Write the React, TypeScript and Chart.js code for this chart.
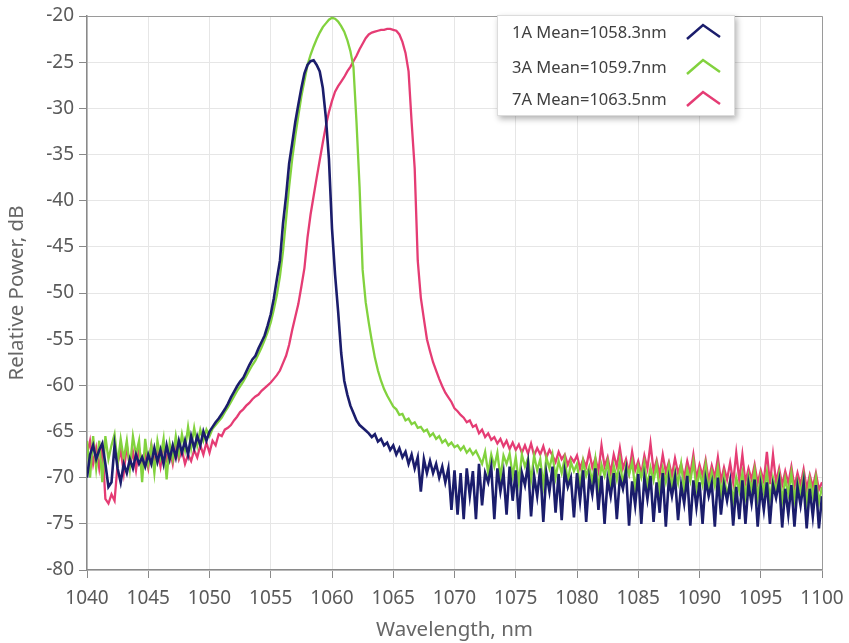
import { useEffect, useRef } from "react";
import { Chart, registerables } from "chart.js";

Chart.register(...registerables);

// Wavelength sampling grid (nm): start and step, one value per sample below
const WL_START = 1040;
const WL_STEP = 0.25;

const SERIES_LABELS = ["1A Mean=1058.3nm", "3A Mean=1059.7nm", "7A Mean=1063.5nm"];
const SERIES_COLORS = ["#1b1d6c", "#82d23e", "#e53c74"];

const X_MIN = 1040;
const X_MAX = 1100;
const X_STEP = 5;
const Y_MIN = -80;
const Y_MAX = -20;
const Y_STEP = 5;

const X_TITLE = "Wavelength, nm";
const Y_TITLE = "Relative Power, dB";

// 1A spectrum, dB (8 samples = 2 nm per row)
const POWER_1A = [
  -70, -67.5, -66.5, -68, -67, -66.3, -68.5, -71,
  -70.5, -66.5, -69, -70.5, -68.5, -69.5, -68, -69,
  -67.5, -68.5, -67.8, -68.8, -67.5, -68.5, -66.8, -68.3,
  -67, -68.5, -66.5, -68, -66.5, -67.8, -66, -67.3,
  -66, -67.5, -65.5, -66.8, -65.5, -66.5, -65, -66,
  -65, -64.5, -64, -63.6, -63.1, -62.6, -62, -61.3,
  -60.7, -60.1, -59.6, -59.2, -58.5, -57.8, -57.2, -56.8,
  -56, -55.3, -54.6, -53.5, -52.3, -50.6, -48.5, -46.5,
  -42.5, -39.5, -36, -33.8, -31.5, -29.6, -27.8, -26.2,
  -25.3, -24.9, -24.8, -25.3, -26, -27.8, -31, -35.5,
  -43, -48, -52, -56.5, -59.5, -61, -62.2, -63,
  -63.8, -64.3, -64.6, -64.9, -65.2, -65.6, -65.3, -66.1,
  -65.8, -66.5, -66.2, -67, -66.5, -67.5, -66.8, -67.8,
  -67.2, -68.5, -67.5, -69, -67.8, -71.5, -68, -69.5,
  -68.2, -69.5, -68.5, -70, -68.8, -70.5, -69, -73.5,
  -69.2, -74, -69.5, -74.5, -69, -72, -69.3, -74.5,
  -68.5, -73, -69.5, -70.5, -68.8, -74.5, -69, -71.5,
  -69.5, -74, -68.8, -72.5, -69.2, -74.5, -69.5, -70.8,
  -68.5, -74.2, -69.8, -72, -69, -74.8, -69.5, -71.5,
  -68.8, -73.8, -69.6, -74.6, -69.3, -71, -70, -74.3,
  -69.5, -72.5, -69.2, -74.8, -70, -71.8, -69, -73.5,
  -69.8, -75, -70.2, -72, -69.5, -74.5, -70, -71.2,
  -69.3, -75.2, -70.4, -73, -69.6, -75, -70, -72.3,
  -69.8, -74.8, -70.5, -73.8, -69.5, -75.3, -70.2, -72,
  -70, -74.6, -70.8, -72.8, -69.8, -75.2, -70.3, -73.2,
  -70.5, -75, -70.2, -72, -70.6, -75.3, -70, -74,
  -70.8, -72.5, -70.5, -75.2, -71, -74.5, -70.3, -75,
  -70.7, -72.8, -70.2, -75.3, -71, -73.5, -70.5, -75,
  -70.8, -72.2, -70.4, -75.4, -71.2, -74, -70.8, -75.3,
  -71, -73, -70.6, -75.5, -71.2, -74.2, -70.8, -75.5,
  -72,
];

// 3A spectrum, dB
const POWER_3A = [
  -66, -70, -65.5, -69, -66, -70.5, -65.5, -68,
  -66.5, -65.3, -68.5, -65.8, -68, -66, -69, -65.5,
  -67.5, -66, -70.5, -65.8, -68.5, -66.5, -69.5, -66,
  -67.8, -65.8, -70.2, -66.3, -68, -65.5, -67.5, -65.3,
  -67, -64.5, -66.8, -64.6, -66.5, -64.8, -66, -64.8,
  -65.5, -64.7, -64.3, -63.9, -63.5, -62.9, -62.4, -61.8,
  -61.2, -60.6, -60.1, -59.6, -59, -58.4, -57.8, -57.3,
  -56.6, -55.9, -55.1, -54.2, -53.2, -51.8, -50.2, -48.2,
  -45.5, -42, -38.5, -35.5, -33, -30.8, -28.7, -27,
  -25.3, -24.2, -23.3, -22.5, -21.8, -21.2, -20.8, -20.4,
  -20.2, -20.3, -20.6, -21.1, -21.7, -22.6, -23.8, -25.5,
  -31.5, -38.5, -47.5, -51, -53.2, -55.2, -57, -58.4,
  -59.5, -60.4, -61.1, -61.7, -62.3, -62.6, -63.2, -63.1,
  -63.8, -63.6, -64.2, -64, -64.6, -64.5, -65, -64.8,
  -65.5, -65.2, -65.8, -65.5, -66.2, -65.9, -66.5, -66.2,
  -66.7, -66.5, -67, -66.6, -67.3, -66.9, -67.5, -67.1,
  -67.8, -68.5, -67.2, -69.5, -67.5, -68.8, -67.3, -70,
  -67.6, -68.5, -67.4, -69.8, -67.8, -70.5, -67.5, -68.8,
  -67.9, -70.3, -67.6, -69.2, -68, -70.8, -67.8, -69,
  -67.5, -70, -68.2, -69.5, -67.9, -70.6, -68.3, -69.3,
  -68.5, -71, -68.2, -69.8, -68.8, -70.5, -68, -71.3,
  -68.6, -69.8, -68.3, -71, -68.7, -70.2, -68.1, -70.8,
  -68.6, -69.7, -68.3, -71.2, -68.8, -70, -68.4, -71,
  -68.9, -70.3, -68.6, -71.4, -69, -70.5, -68.7, -71,
  -69.2, -70.6, -68.5, -71.5, -69.1, -70.4, -68.3, -71.2,
  -69.3, -70.8, -68.6, -71.5, -69.4, -70.9, -68.9, -71.8,
  -69.7, -72, -70.2, -72.5, -70, -71.5, -69.5, -72,
  -69.8, -71.3, -69.2, -72.2, -69.8, -71.6, -69.4, -72.3,
  -70, -71.4, -69.6, -72.5, -70.1, -71.8, -69.5, -72.4,
  -70.3, -71.6, -69.8, -72.8, -70.2, -72, -70, -72.7,
  -71,
];

// 7A spectrum, dB
const POWER_7A = [
  -67.5, -66, -68.5, -66.8, -69, -66.5, -72.3, -72.8,
  -71.8, -72.5, -68.5, -67, -69.5, -66.5, -68.8, -67.2,
  -69.2, -66.8, -68.5, -67.5, -69, -66.5, -68.3, -67,
  -68.8, -66.5, -68, -66.8, -68.5, -66.3, -68, -67,
  -68.5, -67.5, -68.2, -67, -67.8, -66.5, -67.5, -66.2,
  -67.3, -66, -66.5, -65.3, -65.5, -64.8, -64.6, -64.3,
  -63.8, -63.4, -62.9, -62.6, -62.2, -61.9, -61.5, -61.2,
  -61, -60.6, -60.3, -60, -59.7, -59.3, -58.9, -58.4,
  -57.6, -56.8, -55.6, -54, -52.6, -51.2, -49.3, -47.3,
  -44, -41.5, -39.5, -37.5, -35.6, -33.7, -31.9, -30.4,
  -29.2, -28.2, -27.6, -27.1, -26.6, -26, -25.5, -24.9,
  -24.3, -23.6, -23, -22.4, -22, -21.8, -21.7, -21.6,
  -21.5, -21.5, -21.4, -21.4, -21.5, -21.6, -22, -22.8,
  -24, -26, -31.5, -36.5, -46.5, -50.5, -52.8, -55,
  -56.3, -57.5, -58.4, -59.3, -60.1, -60.8, -61.3, -61.8,
  -62.5, -62.8, -63.2, -63.5, -64, -63.8, -64.5, -64.3,
  -65.2, -64.8, -65.6, -65.2, -65.9, -65.6, -66.3, -65.8,
  -66.6, -66, -66.9, -66.2, -67, -66.4, -67.3, -66.5,
  -67.4, -66.3, -67.6, -66.8, -67.5, -66.6, -67.8, -67,
  -67.6, -68.3, -67.2, -68, -67.5, -68.6, -67.8, -68.3,
  -67.6, -69, -68, -68.8, -67.2, -68.9, -67.9, -69.3,
  -66.5, -68.8, -67.8, -69.5, -67.5, -68.8, -66.8, -69,
  -68, -69.5, -67.2, -69.2, -68.2, -69.6, -67.6, -69,
  -66.3, -69.3, -68.1, -69.7, -67.5, -69.4, -68.3, -69.8,
  -67.9, -69.5, -68.5, -70, -68.2, -69.6, -67.5, -70.1,
  -68.6, -69.8, -68.1, -70.3, -68.7, -70, -67.8, -70.4,
  -68.9, -70.2, -68.4, -70.5, -67.3, -70.3, -67.5, -70.5,
  -69, -70.2, -68.6, -70.6, -69.2, -70.4, -67.2, -70.7,
  -67.5, -70.5, -69, -70.8, -69.3, -70.6, -68.8, -71,
  -69.5, -70.8, -69.1, -71.2, -69.7, -71, -69.5, -71.3,
  -70.5,
];

const SERIES_VALUES = [POWER_1A, POWER_3A, POWER_7A];

const FONT = "'Noto Sans', 'Segoe UI', sans-serif";

const framePlugin = {
  id: "frame",
  beforeDatasetsDraw(chart: any) {
    const { ctx, chartArea } = chart;
    ctx.save();
    ctx.strokeStyle = "#9a9a9a";
    ctx.lineWidth = 1;
    ctx.beginPath();
    ctx.moveTo(chartArea.left, chartArea.top + 0.5);
    ctx.lineTo(chartArea.right + 0.5, chartArea.top + 0.5);
    ctx.lineTo(chartArea.right + 0.5, chartArea.bottom);
    ctx.stroke();
    ctx.restore();
  },
};

const boxLegendPlugin = {
  id: "boxLegend",
  afterDatasetsDraw(chart: any) {
    const { ctx, chartArea } = chart;
    const bx = chartArea.right - 325;
    const by = chartArea.top - 1;
    const bw = 238;
    const bh = 101;
    ctx.save();
    ctx.shadowColor = "rgba(0,0,0,0.30)";
    ctx.shadowBlur = 6;
    ctx.shadowOffsetX = 2;
    ctx.shadowOffsetY = 3;
    ctx.fillStyle = "#ffffff";
    ctx.fillRect(bx, by, bw, bh);
    ctx.restore();
    ctx.save();
    ctx.strokeStyle = "#dcdcdc";
    ctx.lineWidth = 1;
    ctx.strokeRect(bx + 0.5, by + 0.5, bw - 1, bh - 1);
    const rowOffsets = [18, 53, 85];
    chart.data.datasets.forEach((ds: any, i: number) => {
      const ry = by + rowOffsets[i];
      ctx.fillStyle = "#404040";
      ctx.font = `16.5px ${FONT}`;
      ctx.textAlign = "left";
      ctx.textBaseline = "middle";
      ctx.fillText(ds.label, bx + 15, ry);
      ctx.strokeStyle = ds.borderColor;
      ctx.lineWidth = 2.5;
      ctx.lineJoin = "miter";
      ctx.beginPath();
      ctx.moveTo(bx + 190, ry + 6);
      ctx.lineTo(bx + 206, ry - 8);
      ctx.lineTo(bx + 223, ry + 4);
      ctx.stroke();
    });
    ctx.restore();
  },
};

export default function App() {
  const canvasRef = useRef<HTMLCanvasElement | null>(null);

  useEffect(() => {
    if (!canvasRef.current) return;
    const datasets = SERIES_VALUES.map((vals, s) => ({
      label: SERIES_LABELS[s],
      data: vals.map((y, i) => ({ x: WL_START + i * WL_STEP, y })),
      borderColor: SERIES_COLORS[s],
      backgroundColor: SERIES_COLORS[s],
      borderWidth: s === 0 ? 2.6 : 2.3,
      pointRadius: 0,
      tension: 0,
      fill: false,
    }));

    const chart = new Chart(canvasRef.current, {
      type: "line",
      data: { datasets },
      options: {
        animation: false,
        responsive: false,
        events: [],
        layout: { padding: { left: 0, right: 27, top: 16, bottom: 0 } },
        plugins: {
          legend: { display: false },
          tooltip: { enabled: false },
        },
        scales: {
          x: {
            type: "linear",
            min: X_MIN,
            max: X_MAX,
            afterFit: (scale: any) => {
              scale.height = 73;
              scale.paddingLeft = 0;
              scale.paddingRight = 0;
            },
            ticks: {
              stepSize: X_STEP,
              autoSkip: false,
              maxRotation: 0,
              padding: 9,
              color: "#5a5a5a",
              font: { family: FONT, size: 19 },
              callback: (v: any) => String(v),
            },
            grid: {
              color: "#e6e6e6",
              tickColor: "#8a8a8a",
              tickLength: 8,
            },
            border: { color: "#8a8a8a", width: 1.5 },
            title: {
              display: true,
              text: X_TITLE,
              color: "#666666",
              font: { family: FONT, size: 20.5 },
              padding: { top: 0, bottom: 1 },
            },
          },
          y: {
            type: "linear",
            min: Y_MIN,
            max: Y_MAX,
            afterFit: (scale: any) => {
              scale.width = 87;
              scale.paddingTop = 0;
              scale.paddingBottom = 0;
            },
            ticks: {
              stepSize: Y_STEP,
              padding: 5,
              color: "#5a5a5a",
              font: { family: FONT, size: 19 },
              callback: (v: any) => String(v),
            },
            grid: {
              color: "#e6e6e6",
              tickColor: "#8a8a8a",
              tickLength: 8,
            },
            border: { color: "#8a8a8a", width: 1.5 },
            title: {
              display: true,
              text: Y_TITLE,
              color: "#666666",
              font: { family: FONT, size: 20.5 },
              padding: { top: 5, bottom: 0 },
            },
          },
        },
      },
      plugins: [framePlugin, boxLegendPlugin],
    });
    return () => chart.destroy();
  }, []);

  return (
    <div style={{ position: "absolute", left: 0, top: 0, width: 849, height: 643, background: "#ffffff" }}>
      <canvas ref={canvasRef} width={849} height={643} style={{ display: "block" }} />
    </div>
  );
}
